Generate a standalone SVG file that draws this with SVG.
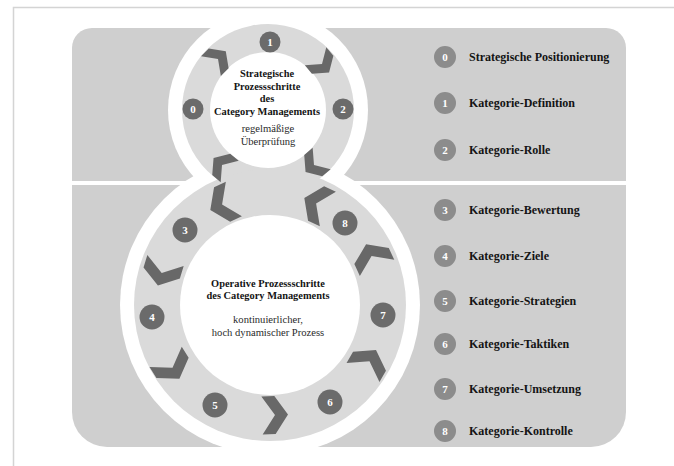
<svg xmlns="http://www.w3.org/2000/svg" xmlns:xlink="http://www.w3.org/1999/xlink" width="674" height="466" viewBox="0 0 674 466">
  <style>
    .panel { fill: #cfcfcf; }
    .gap { fill: #ffffff; }
    .band { fill: #dadada; }
    .chev { fill: #686868; }
    .step { fill: #6b6b6b; }
    .key { fill: #8c8c8c; }
    .num { font-family: "Liberation Serif", "Times New Roman", serif; font-weight: bold; font-size: 11px; fill: #ffffff; text-anchor: middle; }
    .legend { font-family: "Liberation Serif", "Times New Roman", serif; font-weight: bold; font-size: 12px; fill: #141414; }
    .title { font-family: "Liberation Serif", "Times New Roman", serif; font-weight: bold; font-size: 10.4px; fill: #141414; text-anchor: middle; }
    .sub { font-family: "Liberation Serif", "Times New Roman", serif; font-size: 10.6px; fill: #2a2a2a; text-anchor: middle; }
  </style>
  <defs>
    <path id="chev-s" d="M -10,-14 L 1,-14 L 11,0 L 1,14 L -10,14 L 0,0 Z"/>
    <path id="chev-l" d="M -12,-19 L 1,-19 L 14,0 L 1,19 L -12,19 L 1,0 Z"/>
  </defs>

  <!-- outer frame -->
  <rect x="13.5" y="7.5" width="700" height="500" fill="#ffffff" stroke="#d4d4d4" stroke-width="1.5"/>

  <!-- grey background panel, split by a white line -->
  <path class="panel" d="M 92,28 L 606,28 A 20,20 0 0 1 626,48 L 626,412 A 35,35 0 0 1 591,447 L 107,447 A 35,35 0 0 1 72,412 L 72,48 A 20,20 0 0 1 92,28 Z"/>
  <rect class="gap" x="72" y="181" width="554" height="4"/>

  <!-- figure-eight rings -->
  <g id="rings">
    <circle class="gap" cx="268" cy="110" r="100"/>
    <circle class="gap" cx="270" cy="305" r="150"/>
    <circle class="band" cx="268" cy="110" r="86"/>
    <circle class="band" cx="270" cy="305" r="136"/>
    <circle class="gap" cx="268" cy="110" r="58"/>
    <circle class="gap" cx="270" cy="305" r="90"/>
  </g>

  <!-- flow arrows along the rings -->
  <g id="connectors" class="chev">
    <use xlink:href="#chev-s" transform="translate(218,59) rotate(315)"/>
    <use xlink:href="#chev-s" transform="translate(322,64) rotate(50)"/>
    <use xlink:href="#chev-s" transform="translate(314,165) rotate(140)"/>
    <use xlink:href="#chev-s" transform="translate(222,165) rotate(220)"/>
    <use xlink:href="#chev-l" transform="translate(223,204) rotate(155)"/>
    <use xlink:href="#chev-l" transform="translate(317,204) rotate(205)"/>
    <use xlink:href="#chev-l" transform="translate(162,272) rotate(107)"/>
    <use xlink:href="#chev-l" transform="translate(172,367) rotate(58)"/>
    <use xlink:href="#chev-l" transform="translate(274,415) rotate(-2)"/>
    <use xlink:href="#chev-l" transform="translate(369,362) rotate(-60)"/>
    <use xlink:href="#chev-l" transform="translate(372,257) rotate(245)"/>
  </g>

  <!-- centre labels -->
  <g id="strategic-center">
    <text class="title" x="267" y="77">Strategische</text>
    <text class="title" x="267" y="89.5">Prozessschritte</text>
    <text class="title" x="267" y="102">des</text>
    <text class="title" x="267" y="114.5">Category Managements</text>
    <text class="sub" x="268" y="132">regelmäßige</text>
    <text class="sub" x="268" y="145">Überprüfung</text>
  </g>
  <g id="operative-center">
    <text class="title" x="268" y="287">Operative Prozessschritte</text>
    <text class="title" x="268" y="299">des Category Managements</text>
    <text class="sub" x="268" y="323">kontinuierlicher,</text>
    <text class="sub" x="268" y="336">hoch dynamischer Prozess</text>
  </g>

  <!-- step markers on the rings -->
  <g id="step-0"><circle class="step" cx="193" cy="109" r="10.5"/><text class="num" x="193" y="113">0</text></g>
  <g id="step-1"><circle class="step" cx="270" cy="42" r="10.5"/><text class="num" x="270" y="46">1</text></g>
  <g id="step-2"><circle class="step" cx="343" cy="109" r="10.5"/><text class="num" x="343" y="113">2</text></g>
  <g id="step-3"><circle class="step" cx="185" cy="230" r="12.5"/><text class="num" x="185" y="234">3</text></g>
  <g id="step-4"><circle class="step" cx="152" cy="317" r="12.5"/><text class="num" x="152" y="321">4</text></g>
  <g id="step-5"><circle class="step" cx="215" cy="405" r="12.5"/><text class="num" x="215" y="409">5</text></g>
  <g id="step-6"><circle class="step" cx="330" cy="402" r="12.5"/><text class="num" x="330" y="406">6</text></g>
  <g id="step-7"><circle class="step" cx="383" cy="315" r="12.5"/><text class="num" x="383" y="319">7</text></g>
  <g id="step-8"><circle class="step" cx="345" cy="223" r="12.5"/><text class="num" x="345" y="227">8</text></g>

  <!-- legend -->
  <g id="legend-0"><circle class="key" cx="445" cy="57" r="11"/><text class="num" x="445" y="61">0</text><text class="legend" x="469" y="61">Strategische Positionierung</text></g>
  <g id="legend-1"><circle class="key" cx="445" cy="103" r="11"/><text class="num" x="445" y="107">1</text><text class="legend" x="469" y="107">Kategorie-Definition</text></g>
  <g id="legend-2"><circle class="key" cx="445" cy="150" r="11"/><text class="num" x="445" y="154">2</text><text class="legend" x="469" y="154">Kategorie-Rolle</text></g>
  <g id="legend-3"><circle class="key" cx="445" cy="210" r="11"/><text class="num" x="445" y="214">3</text><text class="legend" x="469" y="214">Kategorie-Bewertung</text></g>
  <g id="legend-4"><circle class="key" cx="445" cy="256" r="11"/><text class="num" x="445" y="260">4</text><text class="legend" x="469" y="260">Kategorie-Ziele</text></g>
  <g id="legend-5"><circle class="key" cx="445" cy="301" r="11"/><text class="num" x="445" y="305">5</text><text class="legend" x="469" y="305">Kategorie-Strategien</text></g>
  <g id="legend-6"><circle class="key" cx="445" cy="344" r="11"/><text class="num" x="445" y="348">6</text><text class="legend" x="469" y="348">Kategorie-Taktiken</text></g>
  <g id="legend-7"><circle class="key" cx="445" cy="389" r="11"/><text class="num" x="445" y="393">7</text><text class="legend" x="469" y="393">Kategorie-Umsetzung</text></g>
  <g id="legend-8"><circle class="key" cx="445" cy="431" r="11"/><text class="num" x="445" y="435">8</text><text class="legend" x="469" y="435">Kategorie-Kontrolle</text></g>
</svg>
